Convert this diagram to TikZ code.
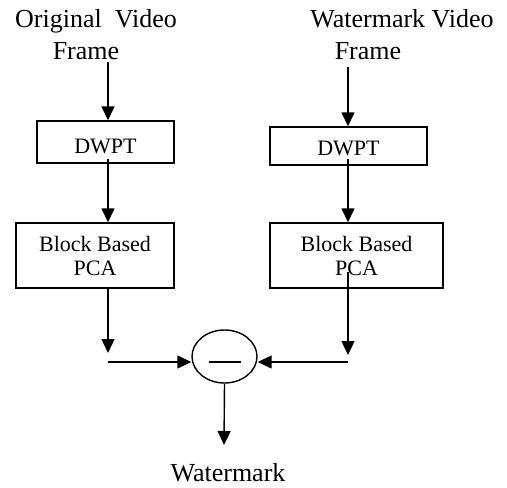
\documentclass[tikz,border=0pt]{standalone}
\usepackage{fontspec}
\setmainfont{Liberation Serif}
\usetikzlibrary{arrows.meta,shapes.geometric,calc}
\begin{document}
\begin{tikzpicture}[x=1pt,y=-1pt,
  every path/.style={line width=1.4pt},
  lbl/.style={align=center,font=\fontsize{26}{32}\selectfont,inner sep=0pt},
  stage/.style={draw,line width=1.4pt,inner sep=0pt,align=center,font=\fontsize{22}{24}\selectfont},
  arr/.style={-{Triangle[width=13pt,length=14pt]},line width=1.4pt}]
\useasboundingbox (0,0) rectangle (507,488);
% labels
\node[lbl] (origL) at (96,35) {Original~~Video\\Frame\hspace*{20pt}};
\node[lbl] (wmL) at (402,35) {Watermark Video\\Frame\hspace*{68pt}};
% boxes
\node[stage,minimum width=137pt,minimum height=42pt] (dwptL) at (105.5,142) {\raisebox{-4pt}[\height][\depth]{DWPT}};
\node[stage,minimum width=157pt,minimum height=38pt] (dwptR) at (348.5,146) {\raisebox{-2pt}[\height][\depth]{DWPT}};
\node[stage,minimum width=158pt,minimum height=65pt] (blkL) at (95,255.5) {Block Based\\PCA};
\node[stage,minimum width=173pt,minimum height=65pt] (blkR) at (356.5,255.5) {Block Based\\PCA};
\node[draw,ellipse,line width=1.4pt,minimum width=65pt,minimum height=53pt,inner sep=0pt] (sub) at (224.5,356.5) {};
\node[lbl] (out) at (228,473) {Watermark};
% column coordinates
\coordinate (cL) at (108,0);
\coordinate (cR) at (348,0);
\coordinate (sL1) at (108,159);
\coordinate (sR1) at (348,159);
\coordinate (sR2) at (348,272);
\coordinate (eL) at (108,353);
\coordinate (eR) at (348,355);
\coordinate (hL) at (108,362);
\coordinate (hR) at (348,362);
\coordinate (wEnd) at (224,445);
% connectors
\draw[arr] (108,62) -- (dwptL.north -| cL);
\draw[arr] (348,67) -- (dwptR.north -| cR);
\draw[arr] (sL1) -- (blkL.north -| cL);
\draw[arr] (sR1) -- (blkR.north -| cR);
\draw[arr] (blkL.south -| cL) -- (eL);
\draw[arr] (sR2) -- (eR);
\draw[arr] (hL) -- (hL -| sub.west);
\draw[arr] (hR) -- (hR -| sub.east);
\draw[arr] (sub.south) -- (wEnd);
% minus sign
\draw[line width=1.2pt] ($(sub.center)+(-16,5.5)$) -- ($(sub.center)+(16,5.5)$);
\end{tikzpicture}
\end{document}
